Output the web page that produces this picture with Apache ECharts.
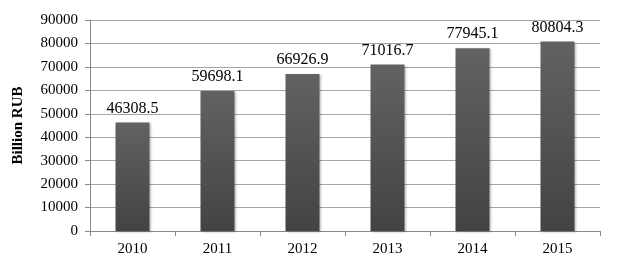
<!DOCTYPE html>
<html><head><meta charset="utf-8">
<script src="https://cdn.jsdelivr.net/npm/echarts@6/dist/echarts.min.js"></script>
<style>html,body{margin:0;padding:0;background:#fff}#c{width:627px;height:273px}</style>
</head><body><div id="c"></div>
<script>
const categories = ['2010','2011','2012','2013','2014','2015'];
const values = [46308.5, 59698.1, 66926.9, 71016.7, 77945.1, 80804.3];
const labels = ['46308.5','59698.1','66926.9','71016.7','77945.1','80804.3'];
const font = '"Liberation Serif", "Times New Roman", serif';
const chart = echarts.init(document.getElementById('c'));
chart.setOption({
  animation: false,
  grid: {left: 90, right: 27, top: 20, bottom: 42},
  xAxis: {
    type: 'category', data: categories,
    axisLine: {lineStyle: {color: '#888', width: 1}},
    axisTick: {show: true, length: 5, alignWithLabel: false, lineStyle: {color: '#888'}},
    axisLabel: {color: '#000', fontFamily: font, fontSize: 15, margin: 11}
  },
  yAxis: {
    type: 'value', min: 0, max: 90000, interval: 10000,
    name: 'Billion RUB', nameLocation: 'middle', nameGap: 64, nameRotate: 90,
    nameTextStyle: {color: '#000', fontFamily: font, fontSize: 15, fontWeight: 'bold'},
    axisLine: {show: true, lineStyle: {color: '#888'}},
    axisTick: {show: true, length: 5, lineStyle: {color: '#888'}},
    splitLine: {lineStyle: {color: '#a6a6a6', width: 1}},
    axisLabel: {color: '#000', fontFamily: font, fontSize: 15, margin: 12, formatter: v => String(v)}
  },
  series: [{
    type: 'bar', data: values, barWidth: 34,
    itemStyle: {
      color: new echarts.graphic.LinearGradient(0,0,0,1,[{offset:0,color:'#626262'},{offset:1,color:'#434343'}]),
      shadowColor: 'rgba(0,0,0,0.25)', shadowBlur: 2, shadowOffsetX: 1, shadowOffsetY: 1
    },
    label: {show: true, position: 'top', distance: 6, color: '#000', fontFamily: font, fontSize: 16,
      formatter: p => labels[p.dataIndex]}
  }]
});
</script></body></html>
